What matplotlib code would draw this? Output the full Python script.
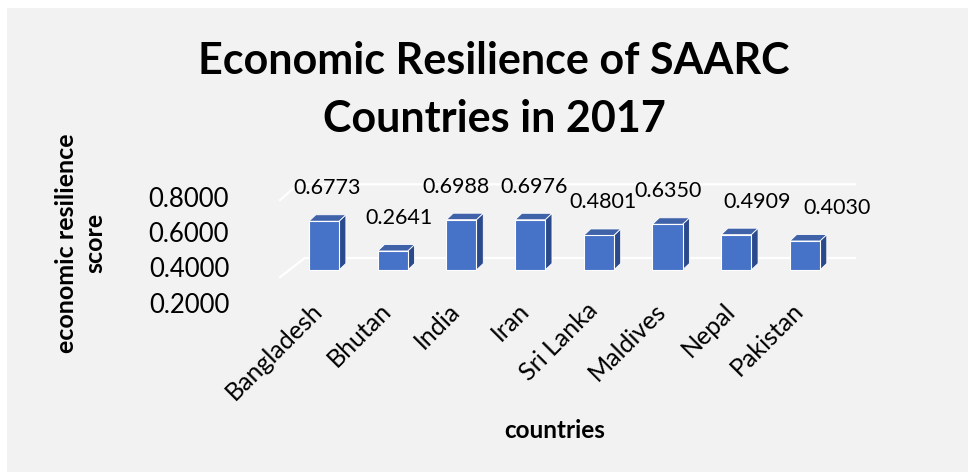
import matplotlib.pyplot as plt
from matplotlib.patches import Polygon, Rectangle

countries = ['Bangladesh', 'Bhutan', 'India', 'Iran', 'Sri Lanka', 'Maldives', 'Nepal', 'Pakistan']
scores = [0.6773, 0.2641, 0.6988, 0.6976, 0.4801, 0.6350, 0.4909, 0.4030]
y_ticks = [0.2, 0.4, 0.6, 0.8]

# nudges for the value labels (pixels), as excel placed them
label_dx = [3, 6, -5, 4, 4, 1, 21, 32]

plt.rcParams['font.family'] = ['Lato', 'DejaVu Sans']

W, H = 968, 472
fig = plt.figure(figsize=(W / 100, H / 100), dpi=100, facecolor='white')
fig.patches.append(Rectangle((7 / W, 0), 1, 1 - 8 / H, transform=fig.transFigure,
                             facecolor='#f2f2f2', edgecolor='none', zorder=-10))

# axes box in pixels: x 250..880, y 150..330 (from top)
pos = [250 / W, (H - 330) / H, 630 / W, 180 / H]
ax = fig.add_axes(pos)
ax.set_xlim((250 - 324) / 68.7, (880 - 324) / 68.7)
ax.set_ylim(-(330 - 270) / 72, (270 - 150) / 72)
ax.axis('off')

# back-wall gridlines with the slanted floor edge
grid_kw = dict(color='white', lw=1.6, zorder=0)
ax.plot([-0.64, -0.38, 7.73], [0.97, 1.19, 1.19], **grid_kw)
ax.plot([-0.64, -0.28, 7.73], [-0.10, 0.167, 0.167], **grid_kw)

w = 0.437
ddx, ddy = 0.10, 0.09
for i, v in enumerate(scores):
    x0, x1 = i - w / 2, i + w / 2
    ax.add_patch(Polygon([(x1, 0), (x1 + ddx, ddy), (x1 + ddx, v + ddy), (x1, v)],
                         facecolor='#2b4a8c', edgecolor='white', lw=0.6, zorder=2))
    ax.add_patch(Polygon([(x0, v), (x0 + ddx, v + ddy), (x1 + ddx, v + ddy), (x1, v)],
                         facecolor='#3f62a8', edgecolor='white', lw=0.6, zorder=2))
    ax.bar(i, v, width=w, color='#4672c8', edgecolor='white', lw=0.8, zorder=3)
    ax.annotate(f'{v:.4f}', (i, v), xytext=(label_dx[i], 33), textcoords='offset pixels',
                ha='center', va='center', fontsize=15.5, color='black')
    ax.annotate(countries[i], (i, 0), xytext=(-5, -37), textcoords='offset pixels',
                ha='right', va='center', rotation=45, rotation_mode='anchor',
                fontsize=18, color='black')

# value axis labels sit on their own scale (excel 3d offset)
ax2 = fig.add_axes(pos, facecolor='none')
ax2.set_ylim((338 - 330) / 176.7, (338 - 150) / 176.7)
ax2.set_xticks([])
ax2.set_yticks(y_ticks)
ax2.set_yticklabels([f'{t:.4f}' for t in y_ticks])
ax2.tick_params(axis='y', length=0, pad=15, labelsize=18.5)
for s in ax2.spines.values():
    s.set_visible(False)

fig.text(494 / W, 1 - 90 / H, 'Economic Resilience of SAARC\nCountries in 2017',
         ha='center', va='center', fontsize=31, fontweight='bold', linespacing=1.55)
fig.text(81 / W, 1 - 243 / H, 'economic resilience\nscore', rotation=90,
         ha='center', va='center', fontsize=18, fontweight='bold', linespacing=1.3)
fig.text(555 / W, 1 - 430 / H, 'countries', ha='center', va='center',
         fontsize=17.5, fontweight='bold')

plt.savefig('out.png', dpi=100, facecolor=fig.get_facecolor())
